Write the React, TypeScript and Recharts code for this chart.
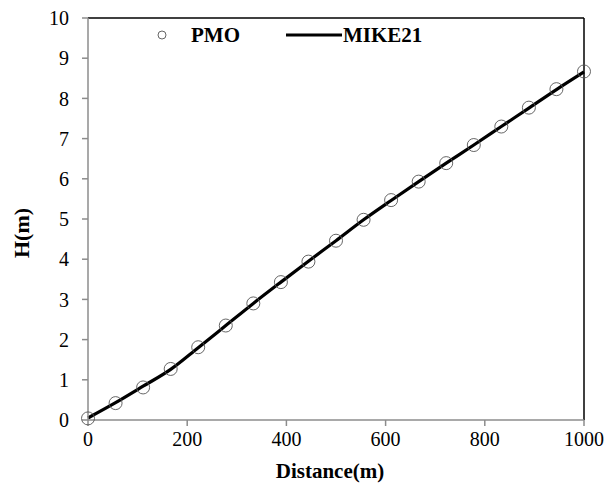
import React from 'react';
import {
    ComposedChart,
    Scatter,
    Line,
    XAxis,
    YAxis,
    ReferenceLine,
} from 'recharts';

const distances = [0, 55.6, 111.1, 166.7, 222.2, 277.8, 333.3, 388.9, 444.4, 500, 555.6, 611.1, 666.7, 722.2, 777.8, 833.3, 888.9, 944.4, 1000];
const pmoValues = [0.04, 0.42, 0.81, 1.27, 1.81, 2.35, 2.9, 3.43, 3.94, 4.46, 4.98, 5.47, 5.93, 6.39, 6.84, 7.3, 7.77, 8.23, 8.67];
const mikeValues = [0.05, 0.43, 0.84, 1.26, 1.8, 2.35, 2.9, 3.43, 3.95, 4.46, 4.98, 5.46, 5.93, 6.39, 6.84, 7.3, 7.76, 8.22, 8.66];
const xTicks = [0, 200, 400, 600, 800, 1000];
const yTicks = [0, 1, 2, 3, 4, 5, 6, 7, 8, 9, 10];

const pmoData = distances.map((d, i) => ({ x: d, y: pmoValues[i] }));
const mikeData = distances.map((d, i) => ({ x: d, y: mikeValues[i] }));

const FONT = 'Liberation Serif, DejaVu Serif, serif';
const AXIS = '#8c8c8c';

const tickStyle = { fill: '#000', fontSize: 20, fontFamily: FONT };

const Hollow = (props: any) => {
    const { cx, cy } = props;
    if (cx == null || cy == null) return null;
    return <circle cx={cx} cy={cy} r={6.5} fill="none" stroke="#555" strokeWidth={0.9} />;
};

// legend drawn as an overlay so it does not push the plot down
const LegendBox = () => (
    <div
        style={{
            position: 'absolute',
            top: 24,
            left: 156,
            display: 'flex',
            alignItems: 'center',
            fontFamily: FONT,
            fontWeight: 'bold',
            fontSize: 21,
            lineHeight: '22px',
            color: '#000',
        }}
    >
        <svg width={12} height={12} style={{ marginRight: 23 }}>
            <circle cx={6} cy={6} r={4} fill="none" stroke="#555" strokeWidth={0.9} />
        </svg>
        <span style={{ marginRight: 46 }}>PMO</span>
        <svg width={56} height={6} style={{ marginRight: 1 }}>
            <line x1={0} y1={3} x2={56} y2={3} stroke="#000" strokeWidth={3} />
        </svg>
        <span>MIKE21</span>
    </div>
);

const xTitle = () => (
    <text x={330} y={478} textAnchor="middle" fill="#000" fontSize={21} fontWeight="bold" fontFamily={FONT}>
        Distance(m)
    </text>
);

const yTitle = () => (
    <text x={29} y={233} transform="rotate(-90 29 233)" textAnchor="middle" fill="#000" fontSize={22} fontWeight="bold" fontFamily={FONT}>
        H(m)
    </text>
);

export default function App() {
    return (
        <div style={{ position: 'absolute', left: 0, top: 0, width: 616, height: 490, background: '#fff', fontFamily: FONT }}>
            <ComposedChart width={616} height={490} margin={{ top: 18, right: 32, left: 0, bottom: 0 }}>
                <XAxis
                    dataKey="x"
                    type="number"
                    domain={[0, 1000]}
                    ticks={xTicks}
                    height={70}
                    stroke={AXIS}
                    strokeWidth={1.5}
                    tickSize={6}
                    tickMargin={6}
                    tick={tickStyle}
                    label={{ content: xTitle }}
                />
                <YAxis
                    dataKey="y"
                    type="number"
                    domain={[0, 10]}
                    ticks={yTicks}
                    interval={0}
                    width={88}
                    stroke={AXIS}
                    strokeWidth={1.5}
                    tickSize={6}
                    tickMargin={13}
                    tick={tickStyle}
                    label={{ content: yTitle }}
                />
                <ReferenceLine y={10} stroke="#000" strokeWidth={1.5} />
                <ReferenceLine x={1000} stroke="#000" strokeWidth={1.5} />
                <Scatter name="PMO" data={pmoData} shape={<Hollow />} isAnimationActive={false} />
                <Line
                    name="MIKE21"
                    data={mikeData}
                    dataKey="y"
                    type="monotone"
                    stroke="#000"
                    strokeWidth={3.2}
                    dot={false}
                    activeDot={false}
                    isAnimationActive={false}
                />
            </ComposedChart>
            <LegendBox />
        </div>
    );
}
